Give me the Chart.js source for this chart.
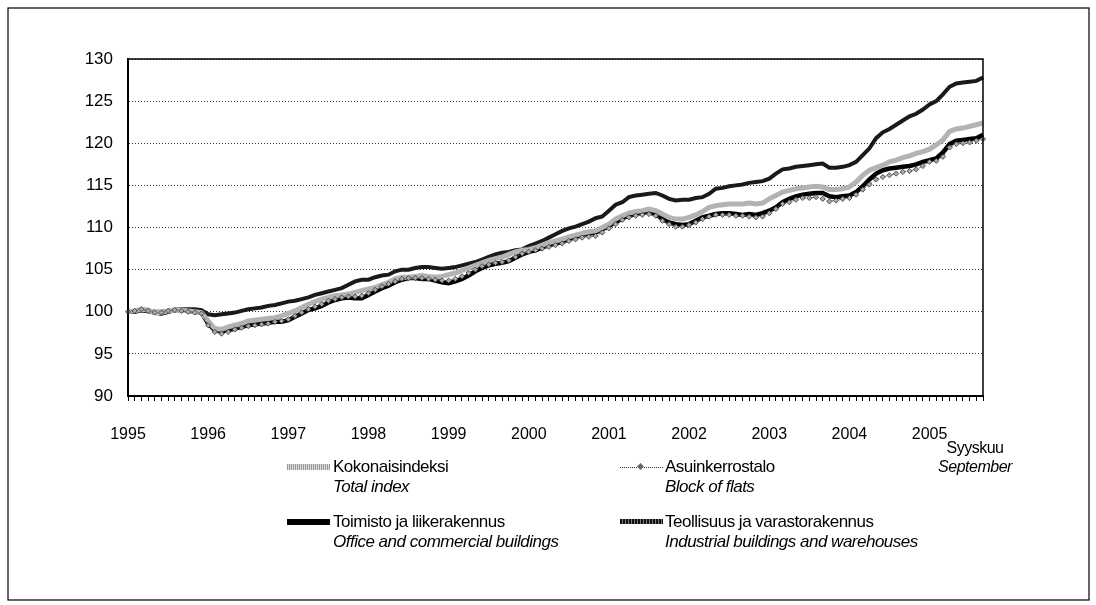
<!DOCTYPE html>
<html>
<head>
<meta charset="utf-8">
<script src="https://cdn.jsdelivr.net/npm/chart.js@4"></script>
<style>
  body { margin: 0; background: #fff; }
  #wrap { position: relative; width: 1096px; height: 605px; font-family: 'Liberation Sans', Arial, sans-serif; color: #000; }
  canvas { position: absolute; left: 0; top: 0; }
  .lg { position: absolute; font-size: 17px; line-height: 20px; letter-spacing: -0.5px; white-space: nowrap; }
  .lg i { display: block; }
  .sw { position: absolute; width: 43px; }
  #note { position: absolute; left: 920px; top: 438px; width: 110px; text-align: center; font-size: 16px; line-height: 19px; letter-spacing: -0.5px; }
</style>
</head>
<body>
<div id="wrap">
  <canvas id="chart" width="1096" height="605"></canvas>

  <div class="sw" style="left:287px;top:464px;height:6px;background:repeating-linear-gradient(90deg,#999 0 1px,#ddd 1px 2px);"></div>
  <div class="lg" style="left:333px;top:457px;">Kokonaisindeksi<i>Total index</i></div>

  <div class="sw" style="left:620px;top:467px;height:0;border-top:1px dotted #333;"></div>
  <div style="position:absolute;left:638px;top:464px;width:5px;height:5px;background:#666;transform:rotate(45deg);"></div>
  <div class="lg" style="left:665px;top:457px;">Asuinkerrostalo<i>Block of flats</i></div>

  <div class="sw" style="left:287px;top:519px;height:6px;background:#000;"></div>
  <div class="lg" style="left:333px;top:512px;">Toimisto ja liikerakennus<i>Office and commercial buildings</i></div>

  <div class="sw" style="left:620px;top:519px;height:5px;background:repeating-linear-gradient(90deg,#111 0 2px,#777 2px 3px);"></div>
  <div class="lg" style="left:665px;top:512px;">Teollisuus ja varastorakennus<i>Industrial buildings and warehouses</i></div>

  <div id="note">Syyskuu<br><i>September</i></div>
</div>
<script>
// kuukaudet 1/1995 - 9/2005
const years = ["1995","1996","1997","1998","1999","2000","2001","2002","2003","2004","2005"];
const months = [];
for (let y = 0; y < years.length; y++) {
  for (let m = 1; m <= 12; m++) {
    if (y === years.length - 1 && m > 9) break;
    months.push(m === 1 ? years[y] : years[y] + "/" + m);
  }
}

// Kokonaisindeksi / Total index
const kokonais = [
  100.0,100.1,100.3,100.2,99.9,99.9,100.1,100.2,100.2,100.1,100.0,99.9,
  98.9,98.0,97.9,98.2,98.4,98.6,98.9,99.0,99.1,99.2,99.3,99.5,
  99.8,100.1,100.5,100.9,101.2,101.5,101.7,101.9,102.0,102.1,102.3,102.5,
  102.7,102.9,103.2,103.5,103.9,104.1,104.1,104.2,104.3,104.2,104.1,104.2,
  104.4,104.6,104.9,105.2,105.5,105.8,106.1,106.3,106.5,106.8,107.1,107.3,
  107.4,107.6,107.9,108.2,108.4,108.6,108.9,109.1,109.3,109.5,109.6,110.0,
  110.4,111.0,111.4,111.7,111.9,112.0,112.2,112.0,111.6,111.2,111.0,111.0,
  111.2,111.5,111.9,112.4,112.6,112.7,112.8,112.8,112.8,112.9,112.8,112.9,
  113.4,113.8,114.2,114.4,114.6,114.7,114.8,114.9,114.8,114.5,114.5,114.6,
  114.8,115.4,116.2,116.8,117.1,117.4,117.8,118.0,118.3,118.5,118.8,119.0,
  119.3,119.8,120.4,121.4,121.7,121.8,122.0,122.2,122.4
];

// Asuinkerrostalo / Block of flats
const asuin = [
  100.0,100.1,100.3,100.1,99.9,99.9,100.1,100.2,100.1,100.0,99.9,99.8,
  98.4,97.6,97.4,97.6,97.9,98.1,98.3,98.4,98.5,98.6,98.8,98.9,
  99.1,99.5,99.9,100.3,100.6,100.9,101.3,101.5,101.7,101.8,101.8,101.9,
  102.2,102.6,103.0,103.3,103.6,103.9,104.0,104.0,104.0,103.9,103.8,103.7,
  103.7,103.9,104.2,104.6,105.0,105.4,105.6,105.8,105.9,106.1,106.5,106.9,
  107.1,107.3,107.5,107.7,107.9,108.1,108.4,108.6,108.8,108.9,109.0,109.4,
  109.9,110.4,110.9,111.2,111.4,111.5,111.6,111.4,110.8,110.4,110.1,110.1,
  110.3,110.6,111.0,111.3,111.5,111.5,111.5,111.4,111.4,111.3,111.2,111.3,
  111.7,112.2,112.8,113.0,113.3,113.5,113.5,113.6,113.4,113.1,113.2,113.4,
  113.5,113.9,114.5,115.1,115.7,116.0,116.2,116.4,116.6,116.7,116.9,117.3,
  117.8,117.9,118.4,119.5,119.9,120.0,120.1,120.3,120.5
];

// Toimisto ja liikerakennus / Office and commercial buildings
const toimisto = [
  100.0,100.0,100.2,100.1,99.9,99.8,100.0,100.2,100.2,100.1,100.0,99.9,
  98.6,97.8,97.7,97.8,98.0,98.2,98.4,98.5,98.6,98.7,98.8,98.8,
  99.0,99.4,99.8,100.2,100.4,100.7,101.1,101.4,101.6,101.7,101.6,101.6,
  102.0,102.4,102.8,103.1,103.5,103.8,104.0,104.0,103.9,103.9,103.7,103.5,
  103.4,103.6,103.9,104.3,104.8,105.2,105.5,105.7,105.8,106.0,106.4,106.8,
  107.1,107.3,107.6,107.9,108.1,108.3,108.6,108.9,109.1,109.3,109.4,109.8,
  110.2,110.6,111.1,111.4,111.6,111.8,111.8,111.6,111.0,110.6,110.4,110.3,
  110.4,110.8,111.2,111.4,111.6,111.7,111.7,111.6,111.5,111.6,111.5,111.7,
  112.0,112.4,113.0,113.4,113.7,113.9,114.0,114.1,114.1,113.7,113.6,113.7,
  113.8,114.2,114.9,115.7,116.4,116.8,117.0,117.1,117.2,117.3,117.5,117.8,
  118.0,118.2,118.9,119.9,120.3,120.4,120.5,120.6,121.0
];

// Teollisuus ja varastorakennus / Industrial buildings and warehouses
const teollisuus = [
  100.0,100.1,100.2,100.1,100.0,100.0,100.1,100.2,100.3,100.3,100.3,100.2,
  99.7,99.6,99.7,99.8,99.9,100.1,100.3,100.4,100.5,100.7,100.8,101.0,
  101.2,101.3,101.5,101.7,102.0,102.2,102.4,102.6,102.8,103.2,103.6,103.8,
  103.8,104.1,104.3,104.4,104.8,105.0,105.0,105.2,105.3,105.3,105.2,105.1,
  105.2,105.3,105.5,105.7,105.9,106.2,106.5,106.8,107.0,107.1,107.3,107.4,
  107.8,108.1,108.4,108.8,109.2,109.6,109.9,110.1,110.4,110.7,111.1,111.3,
  112.0,112.7,113.0,113.6,113.8,113.9,114.0,114.1,113.8,113.4,113.2,113.3,
  113.3,113.5,113.6,114.0,114.6,114.7,114.9,115.0,115.1,115.3,115.4,115.5,
  115.8,116.4,116.9,117.0,117.2,117.3,117.4,117.5,117.6,117.1,117.1,117.2,
  117.4,117.8,118.6,119.4,120.6,121.3,121.7,122.2,122.7,123.2,123.5,124.0,
  124.6,125.0,125.8,126.7,127.1,127.2,127.3,127.4,127.8
];

const yTicks = [90, 95, 100, 105, 110, 115, 120, 125, 130];

const fontFam = "'Liberation Sans', Arial, sans-serif";

// kehykset
const frames = {
  id: "frames",
  afterDraw(chart) {
    const { ctx, chartArea: a } = chart;
    ctx.save();
    ctx.strokeStyle = "#000";
    ctx.lineWidth = 1.5;
    ctx.strokeRect(a.left, a.top, a.right - a.left, a.bottom - a.top);
    ctx.lineWidth = 1.2;
    ctx.strokeRect(8, 8, 1081, 592);
    ctx.restore();
  },
};

new Chart(document.getElementById("chart"), {
  type: "line",
  data: {
    labels: months,
    datasets: [
      {
        label: "Asuinkerrostalo",
        data: asuin,
        borderColor: "#555",
        borderWidth: 1,
        borderDash: [2, 2],
        pointStyle: "rectRot",
        pointRadius: 2.6,
        pointBackgroundColor: "#aaa",
        pointBorderColor: "#333",
        pointBorderWidth: 0.8,
        order: 0,
      },
      {
        label: "Kokonaisindeksi",
        data: kokonais,
        borderColor: "#b3b3b3",
        borderWidth: 5,
        pointRadius: 0,
        order: 1,
      },
      {
        label: "Toimisto ja liikerakennus",
        data: toimisto,
        borderColor: "#000",
        borderWidth: 4.5,
        pointRadius: 0,
        order: 2,
      },
      {
        label: "Teollisuus ja varastorakennus",
        data: teollisuus,
        borderColor: "#1a1a1a",
        borderWidth: 4,
        pointRadius: 0,
        order: 3,
      },
    ],
  },
  options: {
    responsive: false,
    animation: false,
    layout: { padding: { left: 0, top: 59, right: 113, bottom: 0 } },
    plugins: { legend: { display: false }, tooltip: { enabled: false } },
    elements: { line: { tension: 0 } },
    scales: {
      x: {
        offset: false,
        grid: { drawOnChartArea: false, drawTicks: true, tickLength: 5, color: "#000" },
        border: { color: "#000", width: 2 },
        ticks: {
          autoSkip: false,
          maxRotation: 0,
          padding: 24,
          color: "#000",
          font: { family: fontFam, size: 16 },
          callback: (v, i) => (i % 12 === 0 ? years[i / 12] : ""),
        },
        afterFit: (s) => { s.height = 209; },
      },
      y: {
        min: 90,
        max: 130,
        afterBuildTicks: (s) => { s.ticks = yTicks.map((v) => ({ value: v })); },
        grid: { color: "#333", lineWidth: 1, drawTicks: false },
        border: { display: true, color: "#000", width: 2, dash: [1, 2] },
        ticks: { padding: 15, color: "#000", font: { family: fontFam, size: 17 } },
        afterFit: (s) => { s.width = 128; },
      },
    },
  },
  plugins: [frames],
});
</script>
</body>
</html>
